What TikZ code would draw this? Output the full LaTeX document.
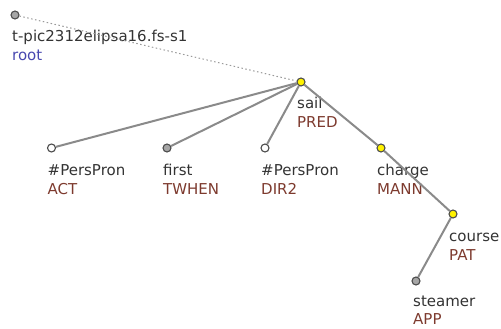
\documentclass[tikz,border=0pt]{standalone}
\usepackage{fontspec}
\setmainfont{DejaVu Sans}
\definecolor{treeEdge}{HTML}{8A8A8A}
\definecolor{treeFunctor}{HTML}{7D3A2E}
\definecolor{treeRoot}{HTML}{4848B0}
\definecolor{treeLemma}{HTML}{333333}
\usetikzlibrary{positioning}

\begin{document}
\begin{tikzpicture}[x=1pt, y=-1pt]
                \tikzset{
                    tnode/.style={circle, draw=black!70, line width=1.1pt, inner sep=0pt, minimum size=8pt},
                    plainnode/.style={tnode, fill=white},
                    greynode/.style={tnode, fill=black!35},
                    hubnode/.style={tnode, fill=yellow},
                    lemma/.style={anchor=base west, inner sep=0pt, text=treeLemma, font=\fontsize{15}{17}\selectfont},
                    functor/.style={lemma, text=treeFunctor},
                    edge/.style={draw=treeEdge, line width=2pt},
                }
                \useasboundingbox (0,0) rectangle (501,329);

                % Tree nodes
                \node[greynode] (root) at (15,15) {};
                \node[hubnode] (sail) at (301,82) {};
                \node[plainnode] (act) at (51.5,148) {};
                \node[greynode] (first) at (167,148) {};
                \node[plainnode] (dir) at (265,148) {};
                \node[hubnode] (charge) at (381,148) {};
                \node[hubnode] (course) at (453,214) {};
                \node[greynode] (steamer) at (416,281) {};

                % Labels (lemma and functor)
                \node[lemma] (rootlem) at (12,42) {t-pic2312elipsa16.fs-s1};
                \node[lemma, text=treeRoot] (rootfun) at (12,61) {root};
                \node[lemma] (saillem) at (297,109) {sail};
                \node[functor] (sailfun) at (297,128) {PRED};
                \node[lemma] (actlem) at (47.5,175) {\#PersPron};
                \node[functor] (actfun) at (47.5,194) {ACT};
                \node[lemma] (firstlem) at (163,175) {first};
                \node[functor] (firstfun) at (163,194) {TWHEN};
                \node[lemma] (dirlem) at (261,175) {\#PersPron};
                \node[functor] (dirfun) at (261,194) {DIR2};
                \node[lemma] (chargelem) at (377,175) {charge};
                \node[functor] (chargefun) at (377,194) {MANN};
                \node[lemma] (courselem) at (449,241) {course};
                \node[functor] (coursefun) at (449,260) {PAT};
                \node[lemma] (steamerlem) at (413,306) {steamer};
                \node[functor] (steamerfun) at (413,324) {APP};

                % Edges
                \draw[black!40, line width=1pt, dash pattern=on 1.5pt off 2.5pt] (root) -- (sail);
                \draw[edge] (sail) -- (act);
                \draw[edge] (sail) -- (first);
                \draw[edge] (sail) -- (dir);
                \draw[edge] (sail) -- (charge);
                \draw[edge] (charge) -- (course);
                \draw[edge] (course) -- (steamer);
            \end{tikzpicture}
\end{document}
